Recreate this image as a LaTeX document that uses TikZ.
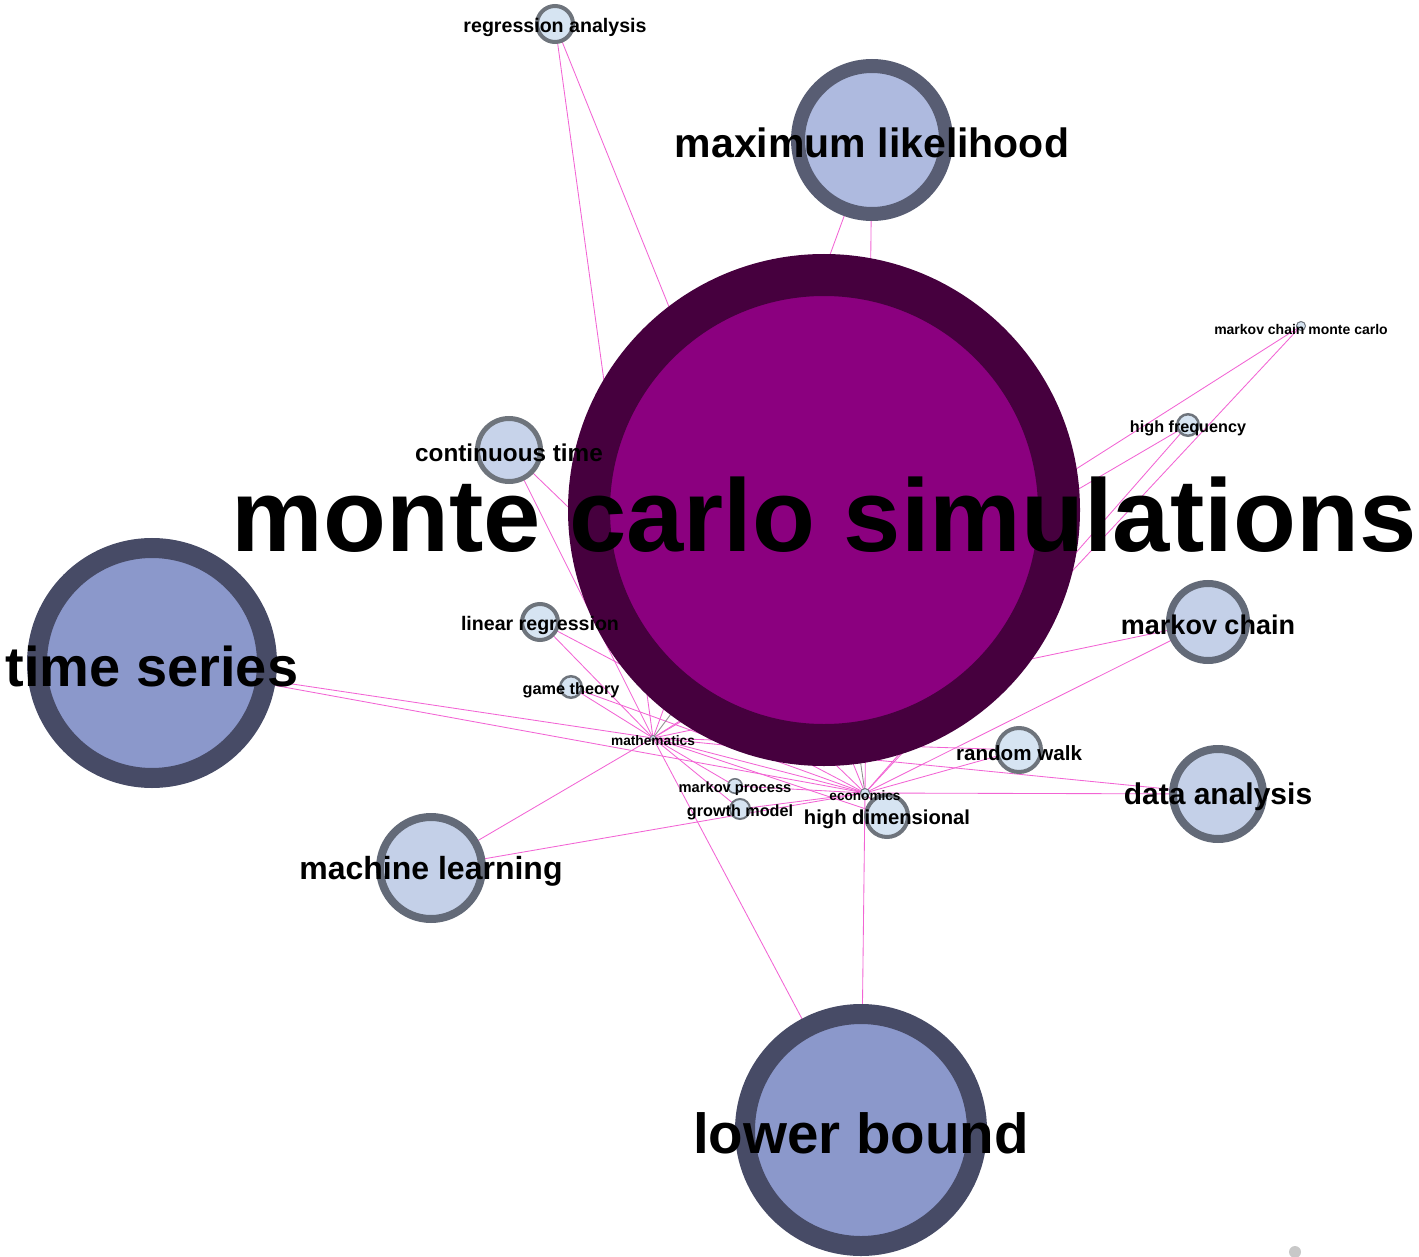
\documentclass[tikz,border=0pt]{standalone}
\usepackage{fontspec}
\setmainfont{Liberation Sans}
\pgfdeclarelayer{edges}
\pgfdeclarelayer{labels}
\pgfsetlayers{edges,main,labels}
\definecolor{edgepink}{RGB}{242,100,212}
\definecolor{edgegray}{RGB}{140,140,140}
\definecolor{mcsfill}{RGB}{139,0,127}
\definecolor{mcsring}{RGB}{70,0,62}
\definecolor{bigfill}{RGB}{139,152,203}
\definecolor{bigring}{RGB}{71,75,102}
\definecolor{mlfill}{RGB}{174,186,223}
\definecolor{mlring}{RGB}{88,93,115}
\definecolor{midfill}{RGB}{196,208,232}
\definecolor{midring}{RGB}{99,106,120}
\definecolor{smallfill}{RGB}{214,228,242}
\definecolor{smallring}{RGB}{110,116,124}
\definecolor{dotgray}{RGB}{200,200,200}
\tikzset{
  term/.style n args={4}{circle,inner sep=0pt,outer sep=0pt,minimum size=#1,
    line width=#2,fill=#3,draw=#4},
  lab/.style={inner sep=0pt,text=black,yshift=-3pt,font=\bfseries\fontsize{#1}{#1}\selectfont},
  edge/.style={draw=edgepink,line width=0.85pt},
  hubedge/.style={draw=edgegray,line width=0.85pt}
}
\begin{document}
\begin{tikzpicture}[x=1pt,y=-1pt]
\useasboundingbox (0,0) rectangle (1419,1257);

% keyword circles (size = diameter of ring centre line)
\node[term={470pt}{42pt}{mcsfill}{mcsring}] (mcs) at (824,510) {};
\node[term={148pt}{14pt}{mlfill}{mlring}] (ml) at (872,140) {};
\node[term={230pt}{20pt}{bigfill}{bigring}] (ts) at (152,663) {};
\node[term={232pt}{20pt}{bigfill}{bigring}] (lb) at (861,1130) {};
\node[term={102pt}{8pt}{midfill}{midring}] (mlearn) at (431,868) {};
\node[term={90pt}{8pt}{midfill}{midring}] (da) at (1218,794) {};
\node[term={77pt}{7pt}{midfill}{midring}] (mc) at (1208,622) {};
\node[term={63pt}{5pt}{midfill!85!smallfill}{smallring}] (ct) at (509,450) {};
\node[term={44pt}{4pt}{smallfill}{smallring}] (rw) at (1019,750) {};
\node[term={36pt}{4pt}{smallfill}{smallring}] (lr) at (540,622) {};
\node[term={42pt}{4pt}{smallfill}{smallring}] (hd) at (887,816) {};
\node[term={36pt}{4pt}{smallfill}{smallring}] (ra) at (555,24) {};
\node[term={21.5pt}{2.5pt}{smallfill}{smallring}] (gt) at (571,687) {};
\node[term={21.5pt}{2.5pt}{smallfill}{smallring}] (hf) at (1188,425) {};
\node[term={20pt}{2pt}{smallfill}{smallring}] (gm) at (740,809) {};
\node[term={14.5pt}{1.5pt}{smallfill}{smallring}] (mp) at (735,786) {};
\node[term={9pt}{1pt}{smallfill}{smallring}] (econ) at (865,793) {};
\node[term={9pt}{1pt}{smallfill}{smallring}] (mcmc) at (1301,326) {};
\node[term={5pt}{0.8pt}{smallfill}{smallring}] (math) at (653,738) {};
\node[circle,inner sep=0pt,minimum size=12pt,fill=dotgray] (dot) at (1295,1252) {};

% connectors: every keyword links to the two hubs
\begin{pgfonlayer}{edges}
\foreach \n in {ra,ml,ct,ts,lr,gt,mlearn,lb,hd,mp,gm,rw,mc,da,hf,mcmc}{
  \draw[edge] (\n) -- (math);
  \draw[edge] (\n) -- (econ);
}
\draw[edge] (math) -- (econ);
\draw[hubedge] (math) -- (mcs);
\draw[hubedge] (econ) -- (mcs);
\end{pgfonlayer}

% labels
\begin{pgfonlayer}{labels}
\node[lab=103pt,yshift=-2pt] (mcs-t) at (mcs) {monte carlo simulations};
\node[lab=41pt] (ml-t) at (ml) {maximum likelihood};
\node[lab=56pt] (ts-t) at (ts) {time series};
\node[lab=56.5pt] (lb-t) at (lb) {lower bound};
\node[lab=32pt] (mlearn-t) at (mlearn) {machine learning};
\node[lab=30pt] (da-t) at (da) {data analysis};
\node[lab=27pt] (mc-t) at (mc) {markov chain};
\node[lab=24.3pt] (ct-t) at (ct) {continuous time};
\node[lab=20.6pt] (rw-t) at (rw) {random walk};
\node[lab=19.6pt] (lr-t) at (lr) {linear regression};
\node[lab=20.2pt] (hd-t) at (hd) {high dimensional};
\node[lab=19.6pt] (ra-t) at (ra) {regression analysis};
\node[lab=16.3pt] (gt-t) at (gt) {game theory};
\node[lab=16.2pt] (hf-t) at (hf) {high frequency};
\node[lab=16.2pt] (gm-t) at (gm) {growth model};
\node[lab=14.7pt] (mp-t) at (mp) {markov process};
\node[lab=13.6pt] (econ-t) at (econ) {economics};
\node[lab=14pt] (mcmc-t) at (mcmc) {markov chain monte carlo};
\node[lab=13.7pt] (math-t) at (math) {mathematics};
\end{pgfonlayer}
\end{tikzpicture}
\end{document}
